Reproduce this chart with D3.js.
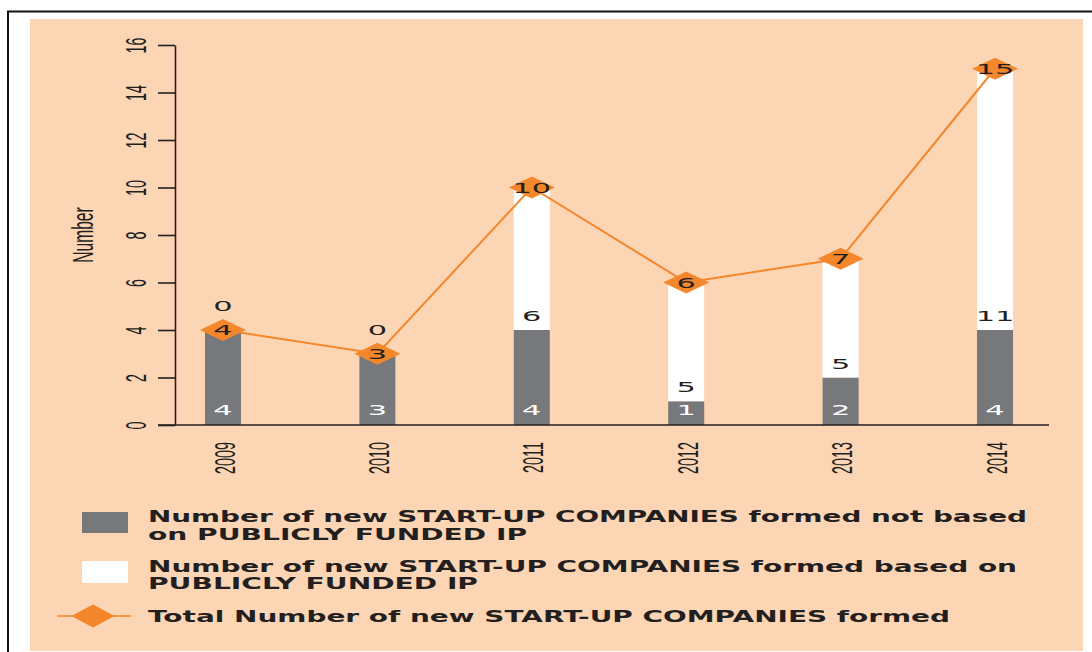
<!DOCTYPE html>
<html>
<head>
<meta charset="utf-8">
<script src="https://cdn.jsdelivr.net/npm/d3@7/dist/d3.min.js"></script>
<style>
  html, body { margin: 0; padding: 0; background: #ffffff; }
  svg { display: block; }
</style>
</head>
<body>
<svg id="chart" width="1092" height="652"></svg>
<script>
// Start-up companies formed per year
const years = ['2009', '2010', '2011', '2012', '2013', '2014'];
const notBasedOnIP = [4, 3, 4, 1, 2, 4];     // not based on publicly funded IP
const basedOnIP = [0, 0, 6, 5, 5, 11];       // based on publicly funded IP
const totalFormed = [4, 3, 10, 6, 7, 15];    // total new start-ups
const yTicks = [0, 2, 4, 6, 8, 10, 12, 14, 16];
const yTitle = 'Number';
const legendLines = [
  ['Number of new START-UP COMPANIES formed not based', 'on PUBLICLY FUNDED IP'],
  ['Number of new START-UP COMPANIES formed based on', 'PUBLICLY FUNDED IP'],
  ['Total Number of new START-UP COMPANIES formed']
];

const INK = '#231f20';
const GREY = '#77787b';
const ORANGE = '#f4862b';
const PEACH = '#fcd5b4';
const AXIS_FONT = '"Liberation Sans", Arial, sans-serif';
const LABEL_FONT = '"DejaVu Sans", Verdana, sans-serif';

const svg = d3.select('#chart');

// frame and panel
svg.append('rect').attr('x', 30).attr('y', 19).attr('width', 1053).attr('height', 632).attr('fill', PEACH);
svg.append('path').attr('d', 'M8,653 L8,11.5 L1092,11.5').attr('fill', 'none').attr('stroke', '#111').attr('stroke-width', 2);

const x = d3.scalePoint().domain(years).range([223, 995]);
const y = d3.scaleLinear().domain([0, 16]).range([425, 45]);
const barW = 36;

// y axis
const yAxis = svg.append('g').attr('transform', 'translate(175,0)')
  .call(d3.axisLeft(y).tickValues(yTicks).tickSize(17).tickSizeOuter(0).tickFormat(d3.format('d')));
yAxis.select('.domain').attr('stroke', INK).attr('stroke-width', 1.6);
yAxis.selectAll('.tick line').attr('stroke', INK).attr('stroke-width', 1.6);
yAxis.selectAll('.tick text')
  .attr('x', null).attr('dy', null).attr('text-anchor', 'middle')
  .attr('fill', INK).style('font-family', AXIS_FONT).style('font-size', '30px')
  .attr('transform', 'translate(-29,0) rotate(-90) scale(0.48,1)');

svg.append('text')
  .attr('transform', 'translate(93,235) rotate(-90) scale(0.52,1)')
  .attr('text-anchor', 'middle').attr('fill', INK)
  .style('font-family', AXIS_FONT).style('font-size', '30px')
  .text(yTitle);

// stacked bars
const rows = years.map((yr, i) => ({
  year: yr, notBased: notBasedOnIP[i], based: basedOnIP[i], total: totalFormed[i]
}));

svg.append('g').selectAll('rect.nb').data(rows).join('rect')
  .attr('x', d => x(d.year) - barW / 2).attr('width', barW)
  .attr('y', d => y(d.notBased)).attr('height', d => y(0) - y(d.notBased))
  .attr('fill', GREY);

svg.append('g').selectAll('rect.b').data(rows).join('rect')
  .attr('x', d => x(d.year) - barW / 2).attr('width', barW)
  .attr('y', d => y(d.notBased + d.based)).attr('height', d => y(d.notBased) - y(d.notBased + d.based))
  .attr('fill', '#ffffff');

// x axis
svg.append('line').attr('x1', 158).attr('x2', 1049).attr('y1', y(0)).attr('y2', y(0))
  .attr('stroke', INK).attr('stroke-width', 1.6);
const xAxis = svg.append('g').attr('transform', `translate(0,${y(0)})`)
  .call(d3.axisBottom(x).tickSize(0));
xAxis.select('.domain').remove();
xAxis.selectAll('.tick text')
  .attr('y', null).attr('dy', null).attr('text-anchor', 'end')
  .attr('fill', INK).style('font-family', AXIS_FONT).style('font-size', '30px')
  .attr('transform', 'translate(11,17) rotate(-90) scale(0.48,1)');

// total line with diamond markers
const line = d3.line().x(d => x(d.year)).y(d => y(d.total));
svg.append('path').datum(rows).attr('d', line)
  .attr('fill', 'none').attr('stroke', ORANGE).attr('stroke-width', 2);

const diamond = (w, h) => `M${-w / 2},0 L0,${-h / 2} L${w / 2},0 L0,${h / 2} Z`;
svg.append('g').selectAll('path').data(rows).join('path')
  .attr('transform', d => `translate(${x(d.year)},${y(d.total)})`)
  .attr('d', diamond(46, 22)).attr('fill', ORANGE);

// value labels, drawn wide and short
function valueLabel(g, data, xFn, yFn, textFn, color) {
  g.selectAll('text').data(data).join('text')
    .attr('transform', d => `translate(${xFn(d)},${yFn(d)}) scale(2.1,1)`)
    .attr('text-anchor', 'middle').attr('dy', '0.36em')
    .attr('fill', color)
    .style('font-family', LABEL_FONT).style('font-size', '14.5px')
    .text(textFn);
}
valueLabel(svg.append('g'), rows, d => x(d.year), d => y(0) - 15, d => d.notBased, '#ffffff');
valueLabel(svg.append('g'), rows, d => x(d.year),
  d => d.based === 0 ? y(d.total) - 24 : y(d.notBased) - 14, d => d.based, INK);
valueLabel(svg.append('g'), rows, d => x(d.year), d => y(d.total), d => d.total, INK);

// legend
const legend = svg.append('g');
legend.append('rect').attr('x', 82).attr('y', 512).attr('width', 46).attr('height', 21).attr('fill', GREY);
legend.append('rect').attr('x', 82).attr('y', 561).attr('width', 46).attr('height', 22).attr('fill', '#ffffff');
legend.append('line').attr('x1', 57).attr('x2', 131).attr('y1', 616).attr('y2', 616)
  .attr('stroke', ORANGE).attr('stroke-width', 1.5);
legend.append('path').attr('transform', 'translate(93,616)').attr('d', diamond(43, 23)).attr('fill', ORANGE);

const legendRows = [
  { text: legendLines[0][0], base: 522, len: 879 },
  { text: legendLines[0][1], base: 540, len: 379 },
  { text: legendLines[1][0], base: 572, len: 869 },
  { text: legendLines[1][1], base: 589, len: 330 },
  { text: legendLines[2][0], base: 622, len: 802 }
];
legend.selectAll('text.item').data(legendRows).join('text')
  .attr('x', 148).attr('y', d => d.base)
  .attr('textLength', d => d.len).attr('lengthAdjust', 'spacingAndGlyphs')
  .attr('fill', INK)
  .style('font-family', LABEL_FONT).style('font-size', '15.5px').style('font-weight', 'bold')
  .text(d => d.text);
</script>
</body>
</html>
